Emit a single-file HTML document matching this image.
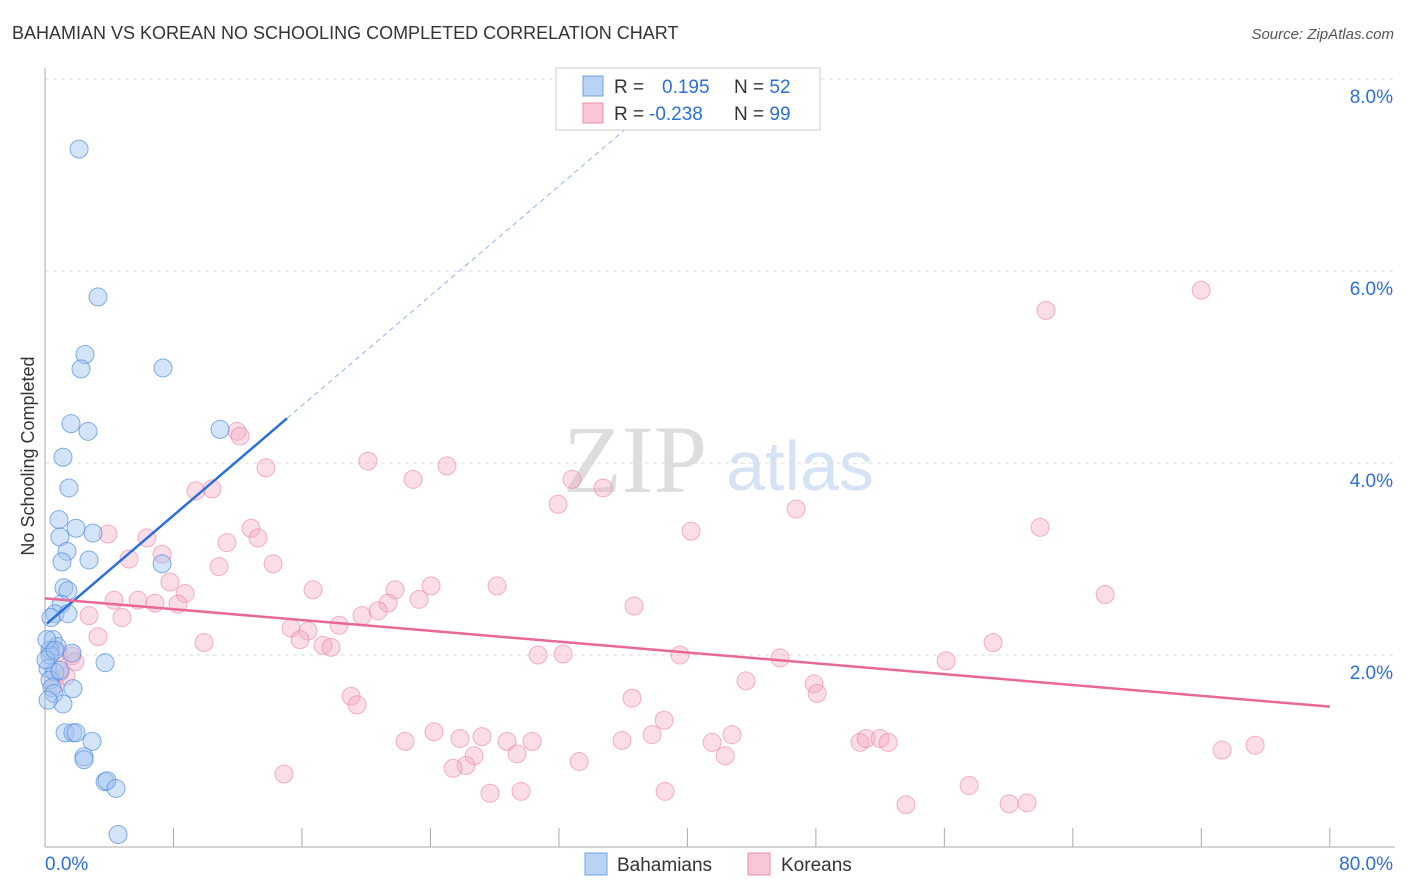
<!DOCTYPE html>
<html><head><meta charset="utf-8"><style>
body{margin:0;background:#fff;font-family:"Liberation Sans",sans-serif}
#wrap{position:relative;width:1406px;height:892px;overflow:hidden}
</style></head><body>
<div id="wrap">
<svg id="svg" width="1406" height="892" xmlns="http://www.w3.org/2000/svg">
<text x="12" y="39" font-size="18" fill="#333">BAHAMIAN VS KOREAN NO SCHOOLING COMPLETED CORRELATION CHART</text>
<text x="1394" y="39" font-size="15" fill="#555" font-style="italic" text-anchor="end">Source: ZipAtlas.com</text>
<text x="0" y="0" transform="translate(34,456) rotate(-90)" font-size="18" fill="#333" text-anchor="middle">No Schooling Completed</text>
<text x="635" y="492" font-size="96" fill="#ddd" font-family="Liberation Serif" text-anchor="middle">ZIP</text>
<text x="800" y="490" font-size="70" fill="#d6e3f5" text-anchor="middle">atlas</text>
<g id="grid"></g><g id="marks"></g>
<rect x="556" y="68" width="264" height="62" fill="#fff" stroke="#ccc"/>
<rect x="583" y="76" width="20" height="20" fill="#b9d3f5" stroke="#6fa0e0"/>
<rect x="583" y="103" width="20" height="20" fill="#f9c6d6" stroke="#eb8fae"/>
<text x="614" y="93" font-size="19" fill="#333">R = <tspan x="662" fill="#2c6fd6">0.195</tspan><tspan x="734" fill="#333">N = </tspan><tspan fill="#2c6fd6">52</tspan></text>
<text x="614" y="120" font-size="19" fill="#333">R = <tspan x="649" fill="#2c6fd6">-0.238</tspan><tspan x="734" fill="#333">N = </tspan><tspan fill="#2c6fd6">99</tspan></text>
<rect x="585" y="853" width="22" height="22" fill="#b9d3f5" stroke="#6fa0e0"/>
<text x="617" y="871" font-size="19" fill="#333">Bahamians</text>
<rect x="748" y="853" width="22" height="22" fill="#f9c6d6" stroke="#eb8fae"/>
<text x="781" y="871" font-size="19" fill="#333">Koreans</text>
</svg>
</div>
<script>
const blueX=[2.12,3.30,2.49,2.24,7.35,1.62,2.68,10.9,1.12,1.49,0.87,1.93,2.99,0.93,1.37,1.06,2.74,7.29,1.18,1.43,1.00,0.62,1.43,0.37,0.50,0.75,0.31,0.31,1.68,3.74,0.19,0.62,0.31,0.44,1.74,0.56,1.12,1.25,1.74,1.93,2.93,2.43,2.43,3.74,3.86,4.42,4.55,0.12,0.93,0.19,0.06,0.62];
const blueY=[7.27,5.73,5.13,4.98,4.99,4.41,4.33,4.35,4.06,3.74,3.41,3.32,3.27,3.23,3.08,2.97,2.99,2.95,2.70,2.67,2.53,2.43,2.43,2.39,2.16,2.09,2.05,2.00,2.02,1.92,1.86,1.82,1.74,1.66,1.65,1.60,1.49,1.19,1.19,1.19,1.10,0.94,0.91,0.68,0.69,0.61,0.13,2.16,1.84,1.53,1.95,2.05];
const pinkX=[11.96,12.14,13.76,20.11,25.03,22.92,32.82,34.75,9.40,10.40,31.95,46.77,12.83,40.23,61.96,3.92,6.35,7.29,11.33,13.26,5.23,10.84,14.20,7.78,8.72,16.69,21.80,24.04,28.15,4.30,5.79,6.85,8.28,2.74,4.80,21.36,23.29,20.74,19.74,36.68,66.01,3.30,9.90,15.32,16.38,15.88,17.31,18.31,17.81,30.70,32.26,39.54,45.77,56.11,59.03,0.81,1.68,1.87,0.93,1.31,0.62,19.06,19.43,36.55,43.65,47.89,48.08,38.55,22.42,24.22,25.84,27.21,28.77,30.33,35.93,37.80,41.54,42.78,42.35,29.39,26.72,26.22,25.41,33.26,14.88,50.75,51.13,52.00,52.50,73.30,75.35,27.71,29.64,38.61,53.61,57.54,60.03,61.15,62.33,71.99];
const pinkY=[4.33,4.28,3.95,4.02,3.97,3.83,3.83,3.74,3.71,3.73,3.57,3.52,3.32,3.29,3.33,3.26,3.22,3.05,3.17,3.22,3.00,2.92,2.95,2.76,2.64,2.68,2.68,2.72,2.72,2.57,2.57,2.54,2.53,2.41,2.39,2.54,2.58,2.46,2.41,2.51,2.63,2.19,2.13,2.28,2.25,2.16,2.10,2.31,2.08,2.00,2.01,2.00,1.97,1.94,2.13,2.03,1.99,1.93,1.82,1.78,1.68,1.57,1.48,1.55,1.73,1.70,1.60,1.32,1.10,1.20,1.13,1.15,1.10,1.10,1.11,1.17,1.09,1.17,0.95,0.97,0.95,0.85,0.82,0.89,0.76,1.09,1.13,1.13,1.09,1.01,1.06,0.56,0.58,0.58,0.44,0.64,0.45,0.46,5.59,5.80];
const blueLine=[2.31,0.143];   // intercept, slope
const pinkLine=[2.59,-0.0141];
const yTicks=[2,4,6,8];
const yTickLabels=["2.0%","4.0%","6.0%","8.0%"];
const xTicks=[0,8,16,24,32,40,48,56,64,72,80];

const NS="http://www.w3.org/2000/svg";
const X=v=>45+v*16.06, Y=v=>847-v*96;
function mk(tag,attrs,parent){const e=document.createElementNS(NS,tag);for(const k in attrs)e.setAttribute(k,attrs[k]);parent.appendChild(e);return e;}
const grid=document.getElementById('grid'), marks=document.getElementById('marks');
yTicks.forEach((t,i)=>{
  const l=mk('line',{x1:45,x2:1395,y1:Y(t),y2:Y(t),stroke:'#ddd','stroke-dasharray':'4,4'},grid);
  
  
  const tx=mk('text',{x:1393,y:Y(t)+24,'font-size':19,fill:'#2c6fd6','text-anchor':'end'},grid);
  tx.textContent=yTickLabels[i];
  
  
});
const ax=mk('line',{x1:45,x2:45,y1:68,y2:847,stroke:'#aaa'},grid);


const axx=mk('line',{x1:45,x2:1395,y1:847,y2:847,stroke:'#aaa'},grid);


xTicks.forEach(t=>{
  const l=mk('line',{x1:X(t),x2:X(t),y1:828,y2:847,stroke:'#aaa'},grid);
  
  
});
const xl=mk('text',{x:45,y:870,'font-size':19,fill:'#2c6fd6'},grid);xl.textContent='0.0%';


const xr=mk('text',{x:1393,y:870,'font-size':19,fill:'#2c6fd6','text-anchor':'end'},grid);xr.textContent='80.0%';



pinkX.forEach((x,i)=>{
  const c=mk('circle',{cx:X(x),cy:Y(pinkY[i]),r:9,fill:'rgba(245,170,195,0.4)',stroke:'rgba(235,130,165,0.6)'},marks);
  
  
});
blueX.forEach((x,i)=>{
  const c=mk('circle',{cx:X(x),cy:Y(blueY[i]),r:9,fill:'rgba(160,195,240,0.45)',stroke:'rgba(80,140,220,0.7)'},marks);
  
  
});
const bl=v=>blueLine[0]+blueLine[1]*v, pl=v=>pinkLine[0]+pinkLine[1]*v;
const b1=mk('line',{x1:X(0.12),y1:Y(bl(0.12)),x2:X(15.07),y2:Y(bl(15.07)),stroke:'#2a6fd8','stroke-width':2.5},marks);


const xEnd=(7.9-blueLine[0])/blueLine[1];
const b2=mk('line',{x1:X(15.07),y1:Y(bl(15.07)),x2:X(xEnd),y2:Y(bl(xEnd)),stroke:'#8fb4e8','stroke-width':1,'stroke-dasharray':'5,4'},marks);


const p1=mk('line',{x1:X(0),y1:Y(pl(0)),x2:X(80),y2:Y(pl(80)),stroke:'#e8689a','stroke-width':2.5},marks);


</script>
</body></html>
